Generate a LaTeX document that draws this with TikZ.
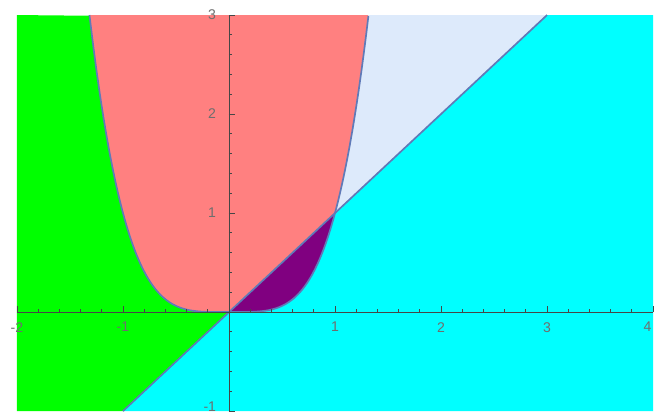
\documentclass[tikz,border=0pt]{standalone}
\usepackage{fontspec}
\setmainfont{Liberation Sans}
\definecolor{regiongreen}{RGB}{0,255,0}
\definecolor{regionred}{RGB}{255,128,128}
\definecolor{regionpale}{RGB}{221,234,251}
\definecolor{regionpurple}{RGB}{128,0,128}
\definecolor{regioncyan}{RGB}{0,255,255}
\definecolor{curveblue}{RGB}{96,122,184}
\definecolor{axisgray}{RGB}{70,70,70}
\definecolor{labelgray}{RGB}{110,110,110}

\begin{document}
\begin{tikzpicture}[
        x=2.65cm,
        y=2.475cm,
        edgeline/.style={draw=curveblue, line width=1.2pt},
        axisline/.style={draw=axisgray, line width=0.6pt},
        ticklabel/.style={text=labelgray, inner sep=1pt, font=\fontsize{10}{12}\selectfont}
    ]
    \useasboundingbox (-2.160,-1.051) rectangle (4.009,3.152);
    \fill[white] (-2.160,-1.051) rectangle (4.009,3.152);

    % regions
    \fill[regiongreen] (-2,-1) -- (-1,-1) -- (0,0)
        -- plot[domain=0:1.31607, samples=60] ({-\x}, {\x*\x*\x*\x})
        -- (-2,3) -- cycle;
    \fill[regionred] (-1.31607,3)
        -- plot[domain=-1.31607:0, samples=60] (\x, {\x*\x*\x*\x})
        -- (1,1)
        -- plot[domain=1:1.31607, samples=20] (\x, {\x*\x*\x*\x})
        -- cycle;
    \fill[regionpale] (1,1)
        -- plot[domain=1:1.31607, samples=20] (\x, {\x*\x*\x*\x})
        -- (3,3) -- cycle;
    \fill[regionpurple] (0,0)
        -- plot[domain=0:1, samples=50] (\x, {\x*\x*\x*\x})
        -- cycle;
    \fill[regioncyan] (-1,-1) -- (0,0)
        -- plot[domain=0:1, samples=50] (\x, {\x*\x*\x*\x})
        -- (3,3) -- (4,3) -- (4,-1) -- cycle;

    % boundaries
    \draw[edgeline] plot[domain=-1.31607:1.31607, samples=120] (\x, {\x*\x*\x*\x});
    \draw[edgeline] (-1,-1) -- (3,3);

    % axes and ticks
    \draw[axisline] (-2,0) -- (4,0);
    \draw[axisline] (0,-1) -- (0,3);
    \foreach \i in {-10,...,20}
        \draw[axisline] (\i/5,0) -- ++(0,0.035);
    \foreach \i in {-5,...,15}
        \draw[axisline] (0,\i/5) -- ++(0.03,0);
    \foreach \k in {-2,...,4}
        \draw[axisline] (\k,0) -- ++(0,0.065);
    \foreach \k in {-1,...,3}
        \draw[axisline] (0,\k) -- ++(0.06,0);

    % tick labels
    \foreach \k [count=\n] in {-2,-1,1,2,3}
        \node[ticklabel, below=6pt] (xlabel\n) at (\k,0) {\k};
    \node[ticklabel, below=6pt, xshift=-4pt] (xlabel6) at (4,0) {4};
    \foreach \k [count=\n] in {1,2,3}
        \node[ticklabel, left=8pt] (ylabel\n) at (0,\k) {\k};
    \node[ticklabel, left=8pt, yshift=3pt] (ylabel4) at (0,-1) {-1};
\end{tikzpicture}
\end{document}
